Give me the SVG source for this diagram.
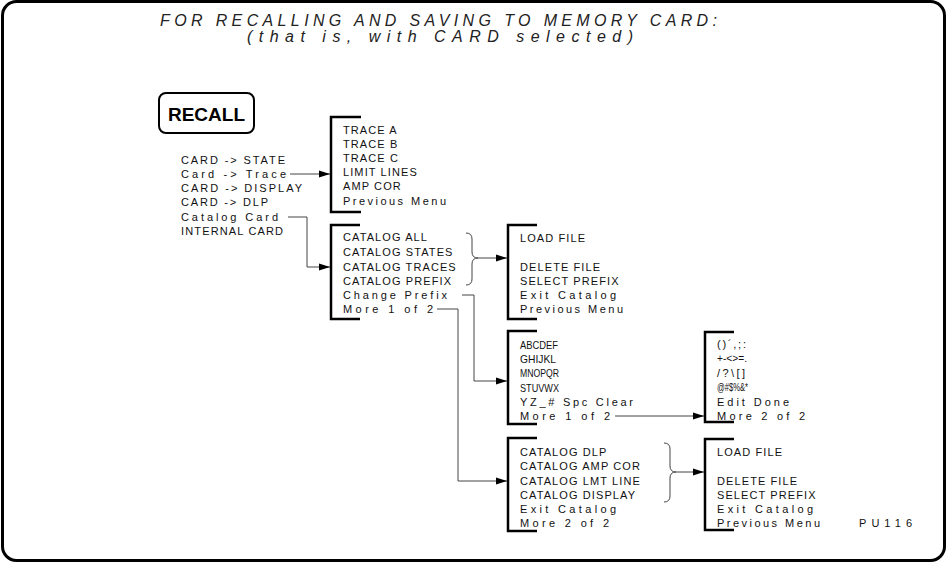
<svg xmlns="http://www.w3.org/2000/svg" width="947" height="564" viewBox="0 0 947 564">
<defs>
<marker id="ah" markerWidth="12" markerHeight="8" refX="11" refY="4" orient="auto" markerUnits="userSpaceOnUse">
<path d="M0,0.5 L11,4 L0,7.5 Z" fill="#000"/>
</marker>
</defs>
<style>
.t{font-family:"Liberation Sans",Arial,sans-serif;font-size:11px;letter-spacing:1.1px;fill:#111}
.m{letter-spacing:0}
.title{font-family:"Liberation Sans",Arial,sans-serif;font-size:16px;font-style:italic;fill:#222}
.br{fill:none;stroke:#000;stroke-width:2.5}
.c{fill:none;stroke:#444;stroke-width:1}
.ca{fill:none;stroke:#444;stroke-width:1;marker-end:url(#ah)}
</style>
<rect x="2.5" y="1.5" width="942" height="559" rx="14" fill="#fff" stroke="#000" stroke-width="3"/>
<g id="title">
<text class="title" x="160" y="26" textLength="557" lengthAdjust="spacing">FOR RECALLING AND SAVING TO MEMORY CARD:</text>
<text class="title" x="247" y="42" textLength="386" lengthAdjust="spacing">(that is, with CARD selected)</text>
</g>
<g id="recall">
<rect x="159" y="93" width="95" height="40" rx="7" fill="#fff" stroke="#000" stroke-width="2"/>
<text x="168" y="121" font-family="Liberation Sans,Arial,sans-serif" font-size="19" font-weight="bold" fill="#000" textLength="77" lengthAdjust="spacingAndGlyphs">RECALL</text>
</g>
<g id="recall-menu">
<text class="t m" x="181" y="164" textLength="104" lengthAdjust="spacing">CARD -&gt; STATE</text>
<text class="t m" x="181" y="178" textLength="105" lengthAdjust="spacing">Card -&gt; Trace</text>
<text class="t m" x="181" y="192" textLength="121" lengthAdjust="spacing">CARD -&gt; DISPLAY</text>
<text class="t m" x="181" y="206" textLength="87" lengthAdjust="spacing">CARD -&gt; DLP</text>
<text class="t m" x="181" y="221" textLength="97" lengthAdjust="spacing">Catalog Card</text>
<text class="t m" x="181" y="235" textLength="102" lengthAdjust="spacing">INTERNAL CARD</text>
</g>
<g id="trace-menu">
<path class="br" d="M361,117 H331 V212 H361"/>
<text class="t" x="343" y="134">TRACE A</text>
<text class="t" x="343" y="148">TRACE B</text>
<text class="t" x="343" y="162">TRACE C</text>
<text class="t" x="343" y="176">LIMIT LINES</text>
<text class="t" x="343" y="190">AMP COR</text>
<text class="t m" x="343" y="205" textLength="103" lengthAdjust="spacing">Previous Menu</text>
</g>
<g id="catalog-menu">
<path class="br" d="M360,225 H331 V319 H360"/>
<text class="t" x="343" y="241">CATALOG ALL</text>
<text class="t" x="343" y="256">CATALOG STATES</text>
<text class="t" x="343" y="271">CATALOG TRACES</text>
<text class="t" x="343" y="285">CATALOG PREFIX</text>
<text class="t m" x="343" y="299" textLength="104" lengthAdjust="spacing">Change Prefix</text>
<text class="t m" x="343" y="313" textLength="90" lengthAdjust="spacing">More 1 of 2</text>
</g>
<g id="file-menu-1">
<path class="br" d="M537,225 H508 V319 H537"/>
<text class="t" x="520" y="242">LOAD FILE</text>
<text class="t" x="520" y="271">DELETE FILE</text>
<text class="t" x="520" y="285">SELECT PREFIX</text>
<text class="t m" x="520" y="299" textLength="96" lengthAdjust="spacing">Exit Catalog</text>
<text class="t m" x="520" y="313" textLength="103" lengthAdjust="spacing">Previous Menu</text>
</g>
<g id="prefix-menu-1">
<path class="br" d="M537,331 H508 V424 H537"/>
<text class="t m" x="520" y="349" textLength="38" lengthAdjust="spacingAndGlyphs">ABCDEF</text>
<text class="t m" x="520" y="363" textLength="36" lengthAdjust="spacingAndGlyphs">GHIJKL</text>
<text class="t m" x="520" y="377" textLength="39" lengthAdjust="spacingAndGlyphs">MNOPQR</text>
<text class="t m" x="520" y="392" textLength="39" lengthAdjust="spacingAndGlyphs">STUVWX</text>
<text class="t m" x="520" y="406" textLength="113" lengthAdjust="spacing">YZ_# Spc Clear</text>
<text class="t m" x="520" y="420" textLength="90" lengthAdjust="spacing">More 1 of 2</text>
</g>
<g id="prefix-menu-2">
<path class="br" d="M734,332 H705 V422 H734"/>
<text class="t m" x="717" y="348" textLength="29" lengthAdjust="spacing">()´,;:</text>
<text class="t m" x="717" y="362" textLength="30" lengthAdjust="spacingAndGlyphs">+-&lt;&gt;=.</text>
<text class="t m" x="717" y="377" textLength="28" lengthAdjust="spacing">/?\[]</text>
<text class="t m" x="717" y="391" textLength="31" lengthAdjust="spacingAndGlyphs" font-size="10">@#$%&amp;*</text>
<text class="t m" x="717" y="406" textLength="72" lengthAdjust="spacing">Edit Done</text>
<text class="t m" x="717" y="420" textLength="88" lengthAdjust="spacing">More 2 of 2</text>
</g>
<g id="catalog-menu-2">
<path class="br" d="M537,438 H508 V531 H537"/>
<text class="t" x="520" y="456">CATALOG DLP</text>
<text class="t" x="520" y="470">CATALOG AMP COR</text>
<text class="t" x="520" y="485">CATALOG LMT LINE</text>
<text class="t" x="520" y="499">CATALOG DISPLAY</text>
<text class="t m" x="520" y="513" textLength="96" lengthAdjust="spacing">Exit Catalog</text>
<text class="t m" x="520" y="527" textLength="89" lengthAdjust="spacing">More 2 of 2</text>
</g>
<g id="file-menu-2">
<path class="br" d="M734,439 H705 V530 H734"/>
<text class="t" x="717" y="456">LOAD FILE</text>
<text class="t" x="717" y="485">DELETE FILE</text>
<text class="t" x="717" y="499">SELECT PREFIX</text>
<text class="t m" x="717" y="513" textLength="96" lengthAdjust="spacing">Exit Catalog</text>
<text class="t m" x="717" y="527" textLength="103" lengthAdjust="spacing">Previous Menu</text>
</g>
<g id="label">
<text class="t m" x="859" y="527" font-size="12" textLength="53" lengthAdjust="spacing">PU116</text>
</g>
<g id="connectors">
<path class="ca" d="M290,174 H330"/>
<path class="ca" d="M288,217 H307 V267 H330"/>
<path class="c" d="M466,233 Q472,233 472,239 V252 Q472,258 478,258 Q472,258 472,264 V279 Q472,285 466,285"/>
<path class="ca" d="M478,258 H507"/>
<path class="ca" d="M462,295 H474 V381 H507"/>
<path class="ca" d="M437,309 H458 V481 H507"/>
<path class="ca" d="M615,416 H704"/>
<path class="c" d="M664,443 Q670,443 670,449 V466 Q670,472 676,472 Q670,472 670,478 V496 Q670,502 664,502"/>
<path class="ca" d="M676,472 H704"/>
</g>
</svg>
